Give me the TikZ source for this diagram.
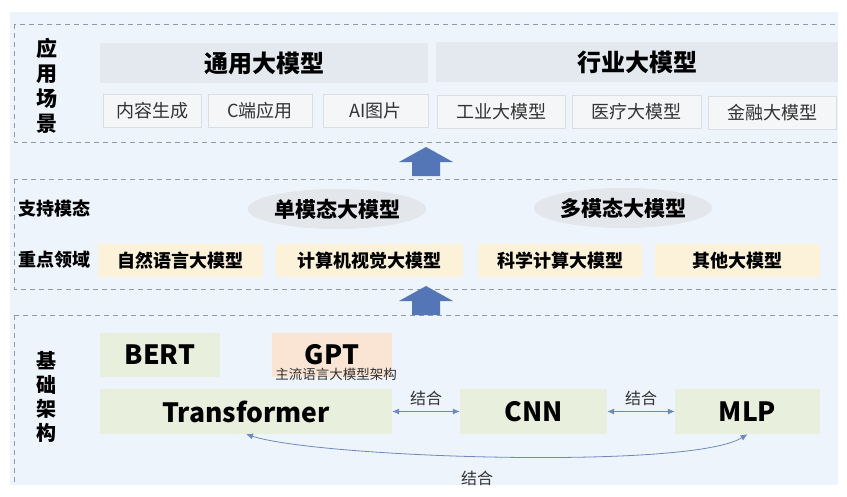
\documentclass[tikz,border=0pt]{standalone}
\usepackage{fontspec}
\setmainfont{Noto Sans CJK SC}
\usetikzlibrary{arrows.meta,shapes.geometric}

\definecolor{bgblue}{HTML}{EDF4FB}
\definecolor{bargray}{HTML}{E3E9EE}
\definecolor{subgray}{HTML}{F4F6F7}
\definecolor{subline}{HTML}{D9DEE3}
\definecolor{cream}{HTML}{FCF2DA}
\definecolor{ellgray}{HTML}{E3E6EA}
\definecolor{archgreen}{HTML}{E9EFDD}
\definecolor{peach}{HTML}{FAE4D4}
\definecolor{dashgray}{HTML}{8D9AAB}
\definecolor{linkblue}{HTML}{6F89BE}
\definecolor{blockblue}{HTML}{5475B6}
\definecolor{inkgray}{HTML}{333333}

\tikzset{
	bar/.style={fill=bargray, minimum height=40pt, inner sep=0pt, font=\bfseries\fontsize{24}{26}\selectfont},
	subbox/.style={fill=subgray, draw=subline, line width=0.6pt, minimum height=33pt, inner sep=0pt, text=inkgray, font=\fontsize{18}{20}\selectfont},
	fieldbox/.style={fill=cream, minimum height=33pt, inner sep=0pt, font=\bfseries\fontsize{18}{20}\selectfont},
	modal/.style={ellipse, fill=ellgray, minimum width=158pt, minimum height=40pt, inner sep=0pt, font=\bfseries\fontsize{21}{23}\selectfont},
	archbox/.style={fill=archgreen, inner sep=0pt, font=\bfseries\fontsize{26.5}{28}\selectfont},
	sidelabel/.style={align=center, inner sep=0pt, font=\bfseries\fontsize{18}{20}\selectfont},
	combine/.style={{Latex[length=7pt,width=6pt]}-{Latex[length=7pt,width=6pt]}, draw=linkblue, line width=0.8pt},
	linklabel/.style={inner sep=0pt, text=inkgray, font=\fontsize{16}{18}\selectfont},
	zone/.style={draw=dashgray, line width=0.9pt, dash pattern=on 5pt off 4pt}
}

\begin{document}
\begin{tikzpicture}[x=1pt, y=-1pt]
	\useasboundingbox (0,0) rectangle (847,496);
	\fill[bgblue] (10,12) rectangle (838,485);

	\begin{scope}
		\clip (10,12) rectangle (838,485);
		\draw[zone] (14,24) rectangle (860,142);
		\draw[zone] (14,179) rectangle (860,289);
		\draw[zone] (14,315) rectangle (860,520);
	\end{scope}

	\foreach \ty in {147,286}{
			\fill[blockblue] (426,\ty) -- (453,\ty+15) -- (440,\ty+15) -- (440,\ty+29)
				-- (412,\ty+29) -- (412,\ty+15) -- (399,\ty+15) -- cycle;
		}

	\node[sidelabel, font=\bfseries\fontsize{21}{25}\selectfont] (app) at (47,86) {应\\用\\场\\景};
	\node[bar, minimum width=328pt] (general) at (264,63) {通用大模型};
	\node[bar, minimum width=402pt] (industry) at (637,62) {行业大模型};
	\node[subbox, minimum width=98pt] (content) at (152,110.5) {内容生成};
	\node[subbox, minimum width=104pt] (cend) at (260,110.5) {C端应用};
	\node[subbox, minimum width=105pt] (aipic) at (375.5,110.5) {AI图片};
	\node[subbox, minimum width=128pt] (factory) at (501,111.5) {工业大模型};
	\node[subbox, minimum width=129pt] (medical) at (636.5,111.5) {医疗大模型};
	\node[subbox, minimum width=128pt] (finance) at (772,112.5) {金融大模型};

	\node[sidelabel] (modality) at (54,209) {支持模态};
	\node[sidelabel] (domain) at (54,260) {重点领域};
	\node[modal] (single) at (337,209) {单模态大模型};
	\node[modal] (multi) at (623,208) {多模态大模型};
	\node[fieldbox, minimum width=165pt] (nlp) at (180.5,260.5) {自然语言大模型};
	\node[fieldbox, minimum width=187pt] (cv) at (369.5,260.5) {计算机视觉大模型};
	\node[fieldbox, minimum width=164pt] (sci) at (560,260.5) {科学计算大模型};
	\node[fieldbox, minimum width=165pt] (other) at (737.5,260.5) {其他大模型};

	\node[sidelabel, font=\bfseries\fontsize{20}{24}\selectfont] (base) at (46,397) {基\\础\\架\\构};
	\node[archbox, minimum width=120pt, minimum height=44pt] (bert) at (160,355) {BERT};
	\node[archbox, fill=peach, minimum width=120pt, minimum height=44pt] (gpt) at (332,355) {GPT};
	\node[inner sep=0pt, text=inkgray, font=\fontsize{13.5}{15}\selectfont] (gptnote) at (336,374) {主流语言大模型架构};
	\node[archbox, minimum width=292pt, minimum height=45pt] (tf) at (246,411.5) {Transformer};
	\node[archbox, minimum width=147pt, minimum height=45pt] (cnn) at (533.5,411.5) {CNN};
	\node[archbox, minimum width=145pt, minimum height=45pt] (mlp) at (747.5,411.5) {MLP};

	\draw[combine] (tf) -- (cnn) node[linklabel, midway, above=5pt] (linkA) {结合};
	\draw[combine] (cnn) -- (mlp) node[linklabel, midway, above=5pt] (linkB) {结合};
	\draw[combine] (tf.south) .. controls (320,458) and (690,470) .. (mlp.south);
	\node[linklabel] (linkC) at (477,478) {结合};
\end{tikzpicture}
\end{document}
